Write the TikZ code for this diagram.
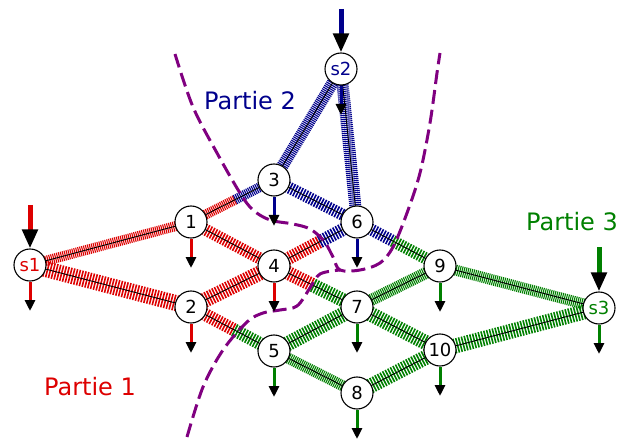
\documentclass[tikz,border=0pt]{standalone}
\usepackage{fontspec}
\setmainfont{DejaVu Sans}
\usetikzlibrary{arrows.meta,calc,backgrounds}
\definecolor{cred}{RGB}{221,0,0}
\definecolor{cblue}{RGB}{0,0,140}
\definecolor{cgreen}{RGB}{0,128,0}
\definecolor{cpurple}{RGB}{128,0,128}
\begin{document}
\begin{tikzpicture}[x=1pt,y=-1pt,
 vnode/.style={circle,draw=black,line width=1.1pt,fill=white,minimum size=32pt,inner sep=0pt,font=\fontsize{18}{18}\selectfont},
 band/.style={line width=#1, dash pattern=on 1.6pt off 1.3pt},
 fband/.style={line width=#1, dash pattern=on 1.1pt off 0.9pt},
 core/.style={black,line width=0.9pt},
 outarrow/.style={#1,line width=3pt,-{Triangle[color=black,length=11pt,width=10pt]}},
 inarrow/.style={#1,line width=5pt,-{Triangle[color=black,length=19pt,width=15pt]}},
 cut/.style={cpurple,line width=3pt,dash pattern=on 14pt off 6pt},
 part/.style={font=\fontsize{24}{24}\selectfont}]
\useasboundingbox (0,0) rectangle (619,441);

% nodes
\node[vnode,text=cred] (s1) at (30,265) {s1};
\node[vnode,text=cblue] (s2) at (341,69) {s2};
\node[vnode,text=cgreen] (s3) at (599,308) {s3};
\node[vnode] (n1) at (191,222) {1};
\node[vnode] (n2) at (191,307) {2};
\node[vnode] (n3) at (274,180) {3};
\node[vnode] (n4) at (274,266) {4};
\node[vnode] (n5) at (274,351) {5};
\node[vnode] (n6) at (357,222) {6};
\node[vnode] (n7) at (357,307) {7};
\node[vnode] (n8) at (357,393) {8};
\node[vnode] (n9) at (440,266) {9};
\node[vnode] (n10) at (440,350) {10};

% split points
\coordinate (m13) at ($(n1)!0.53!(n3)$);
\coordinate (m46) at ($(n4)!0.55!(n6)$);
\coordinate (m47) at ($(n4)!0.47!(n7)$);
\coordinate (m69) at ($(n6)!0.43!(n9)$);
\coordinate (m25) at ($(n2)!0.52!(n5)$);

\begin{pgfonlayer}{background}
\draw[fband=10pt,cred] (s1.center) -- (n1.center);
\draw[band=16pt,cred] (s1.center) -- (n2.center);
\draw[fband=10pt,cred] (n1.center) -- (m13);
\draw[fband=10pt,cblue] (m13) -- (n3.center);
\draw[band=12pt,cred] (n1.center) -- (n4.center);
\draw[band=15pt,cred] (n2.center) -- (n4.center);
\draw[band=13pt,cred] (n2.center) -- (m25);
\draw[band=13pt,cgreen] (m25) -- (n5.center);
\draw[fband=12pt,cblue] (s2.center) -- (n3.center);
\draw[fband=12pt,cblue] (s2.center) -- (n6.center);
\draw[band=12pt,cblue] (n3.center) -- (n6.center);
\draw[band=13pt,cred] (n4.center) -- (m46);
\draw[band=13pt,cblue] (m46) -- (n6.center);
\draw[band=14pt,cred] (n4.center) -- (m47);
\draw[band=14pt,cgreen] (m47) -- (n7.center);
\draw[band=12pt,cblue] (n6.center) -- (m69);
\draw[band=12pt,cgreen] (m69) -- (n9.center);
\draw[band=15pt,cgreen] (n5.center) -- (n7.center);
\draw[fband=11pt,cgreen] (n5.center) -- (n8.center);
\draw[fband=12pt,cgreen] (n7.center) -- (n9.center);
\draw[band=15pt,cgreen] (n7.center) -- (n10.center);
\draw[band=15pt,cgreen] (n8.center) -- (n10.center);
\draw[fband=11pt,cgreen] (n9.center) -- (s3.center);
\draw[band=15pt,cgreen] (n10.center) -- (s3.center);
\foreach \a/\b in {s1/n1,s1/n2,n1/n3,n1/n4,n2/n4,n2/n5,s2/n3,s2/n6,n3/n6,n4/n6,n4/n7,n6/n9,n5/n7,n5/n8,n7/n9,n7/n10,n8/n10,n9/s3,n10/s3}
  \draw[core] (\a.center) -- (\b.center);
\end{pgfonlayer}

% partition boundaries
\draw[cut] plot[smooth,tension=0.55] coordinates {(175,54) (193,107) (217,153) (240,193) (253,210) (270,220) (293,224) (310,229) (324,241) (333,257) (340,270) (360,270) (380,263) (393,247) (407,213) (420,173) (430,123) (437,73) (440,53)};
\draw[cut] plot[smooth,tension=0.55] coordinates {(187,437) (203,387) (223,350) (247,322) (263,313) (280,310) (297,306) (310,288) (320,274) (340,270)};

% output arrows
\foreach \n/\c in {s1/cred,n1/cred,n2/cred,n4/cred,s2/cblue,n3/cblue,n6/cblue,n5/cgreen,n7/cgreen,n8/cgreen,n9/cgreen,n10/cgreen,s3/cgreen}{
  \coordinate (\n o) at ($(\n.center)+(0,46)$);
  \draw[outarrow=\c] (\n.south) -- (\n o);
}

% input arrows
\coordinate (s1in) at (30,205);
\coordinate (s2in) at (341,9);
\coordinate (s3in) at (599,247);
\draw[inarrow=cred] (s1in) -- (s1);
\draw[inarrow=cblue] (s2in) -- (s2);
\draw[inarrow=cgreen] (s3in) -- (s3);

% labels
\node[part,text=cred] (p1) at (90,387) {Partie 1};
\node[part,text=cblue] (p2) at (250,101) {Partie 2};
\node[part,text=cgreen] (p3) at (572,222) {Partie 3};
\end{tikzpicture}
\end{document}
